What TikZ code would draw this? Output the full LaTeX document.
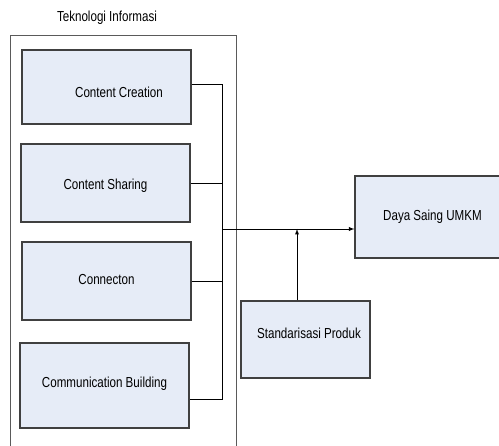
\documentclass[tikz,border=0pt]{standalone}
\usepackage{fontspec}
\setmainfont{Liberation Sans}[FakeStretch=0.8]
\definecolor{r230g236b247}{RGB}{230,236,247}
\definecolor{r64g64b64}{RGB}{64,64,64}
\definecolor{r90g90b90}{RGB}{90,90,90}
\tikzset{
  blok/.style={draw=r64g64b64, fill=r230g236b247, line width=1.2pt, inner sep=0pt},
  lbl/.style={font=\fontsize{14.5}{17}\selectfont, text=black},
  garis/.style={line width=0.9pt, black},
  panah/.style={garis, -latex}
}
\begin{document}
\begin{tikzpicture}[x=1pt, y=-1pt]
                        \useasboundingbox (0,0) rectangle (499,446);
                        \clip (0,0) rectangle (499,446);
                        {\fontsize{14.5}{17}\selectfont

                        % Drawing frame Teknologi Informasi
                        \node[lbl] (judul) at (107,18) {Teknologi Informasi};
                        \draw [line width=1pt, draw=r90g90b90] (10,460) -- (10,36) -- (236,36) -- (236,460);%

                        % Drawing boxes inside the frame
                        \node[blok, minimum width=169pt, minimum height=74pt,
                              label={[lbl, xshift=12.5pt, yshift=-5pt]center:Content Creation}] (cc) at (106.5,87) {};
                        \node[blok, minimum width=169pt, minimum height=78pt,
                              label={[lbl, yshift=-3pt]center:Content Sharing}] (cs) at (105.5,183) {};
                        \node[blok, minimum width=169pt, minimum height=78pt,
                              label={[lbl, yshift=1pt]center:Connecton}] (cn) at (106.5,281) {};
                        \node[blok, minimum width=169pt, minimum height=85pt,
                              label={[lbl, yshift=1.5pt]center:Communication Building}] (cb) at (104.5,385.5) {};

                        % Drawing boxes on the right
                        \node[blok, minimum width=155pt, minimum height=82pt,
                              label={[lbl]center:Daya Saing UMKM}] (ds) at (432.5,217) {};
                        \node[blok, minimum width=129pt, minimum height=77pt,
                              label={[lbl, xshift=3.5pt, yshift=6.5pt]center:Standarisasi Produk}] (sp) at (305.5,339.5) {};

                        % Marking points of the bus
                        \coordinate (atas) at (222,84);
                        \coordinate (bawah) at (222,399);
                        \coordinate (tengah) at (222,229);
                        \coordinate (temu) at (297,229);

                        % Drawing line bus
                        \draw [garis] (cc.east |- atas) -- (atas) -- (bawah) -- (cb.east |- bawah);%
                        \draw [garis] (cs.east) -- (cs.east -| atas);%
                        \draw [garis] (cn.east) -- (cn.east -| atas);%

                        % Drawing arrows
                        \draw [panah] (tengah) -- (tengah -| ds.west);%
                        \draw [panah] (sp.north -| temu) -- (temu);%
                        }
                    \end{tikzpicture}
\end{document}
